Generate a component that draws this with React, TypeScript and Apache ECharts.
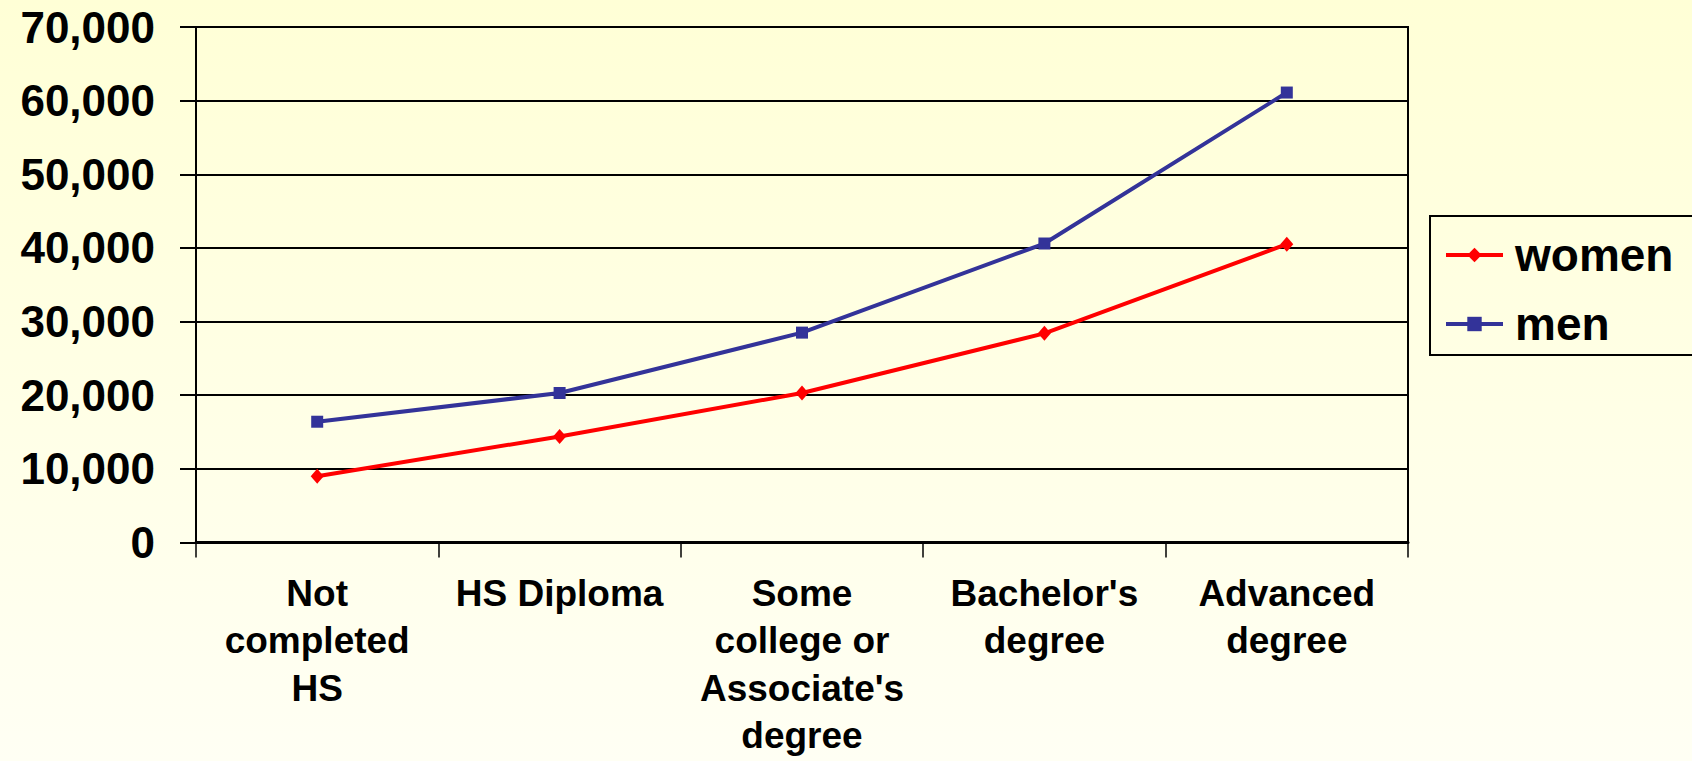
import React, { useEffect, useRef } from "react";
import * as echarts from "echarts";

const categories = [
  "Not\ncompleted\nHS",
  "HS Diploma",
  "Some\ncollege or\nAssociate's\ndegree",
  "Bachelor's\ndegree",
  "Advanced\ndegree",
];
const women = [9000, 14400, 20300, 28400, 40500];
const men = [16400, 20300, 28500, 40600, 61100];
const yMin = 0;
const yMax = 70000;
const yStep = 10000;

const FONT = "'Liberation Sans', Arial, Helvetica, sans-serif";

export default function App() {
  const ref = useRef<HTMLDivElement>(null);
  useEffect(() => {
    document.body.style.margin = "0";
    if (!ref.current) return;
    const chart = echarts.init(ref.current, null, { renderer: "svg" });
    chart.setOption({
      animation: false,
      backgroundColor: new echarts.graphic.LinearGradient(0, 0, 0, 1, [
        { offset: 0, color: "#FFFFD6" },
        { offset: 1, color: "#FFFFF4" },
      ]),
      grid: {
        left: 196,
        right: 284,
        top: 27,
        bottom: 218.5,
        show: true,
        borderColor: "#000",
        borderWidth: 2,
        backgroundColor: "transparent",
        outerBoundsMode: "none",
        containLabel: false,
      },
      legend: {
        left: 1430,
        top: 216,
        orient: "vertical",
        borderColor: "#000",
        borderWidth: 2,
        padding: [15, 20, 7, 14],
        itemGap: 21,
        itemWidth: 57,
        itemHeight: 18,
        lineStyle: { width: 4 },
        textStyle: {
          fontFamily: FONT,
          fontSize: 46,
          fontWeight: "bold",
          color: "#000",
          lineHeight: 48,
          padding: [0, 0, 0, 7],
        },
        data: ["women", "men"],
      },
      xAxis: {
        type: "category",
        data: categories,
        boundaryGap: true,
        axisLine: { lineStyle: { color: "#000", width: 3 } },
        axisTick: { show: true, length: 15, inside: false, lineStyle: { color: "#000", width: 1.5 } },
        axisLabel: {
          interval: 0,
          margin: 27,
          fontFamily: FONT,
          fontSize: 37,
          fontWeight: "bold",
          color: "#000",
          lineHeight: 47.5,
        },
        splitLine: { show: false },
      },
      yAxis: {
        type: "value",
        min: yMin,
        max: yMax,
        interval: yStep,
        axisLine: { show: true, lineStyle: { color: "#000", width: 2 } },
        axisTick: { show: true, length: 16, lineStyle: { color: "#000", width: 2 } },
        axisLabel: {
          margin: 41,
          fontFamily: FONT,
          fontSize: 44,
          fontWeight: "bold",
          color: "#000",
          formatter: (v: number) => v.toLocaleString("en-US"),
        },
        splitLine: { show: true, lineStyle: { color: "#000", width: 2 } },
      },
      series: [
        {
          name: "women",
          type: "line",
          data: women,
          color: "#FF0000",
          symbol: "diamond",
          symbolSize: [13, 15],
          lineStyle: { width: 4, color: "#FF0000" },
          itemStyle: { color: "#FF0000" },
        },
        {
          name: "men",
          type: "line",
          data: men,
          color: "#333399",
          symbol: "rect",
          symbolSize: 12,
          lineStyle: { width: 4, color: "#333399" },
          itemStyle: { color: "#333399" },
        },
      ],
    });
    return () => chart.dispose();
  }, []);
  return <div ref={ref} style={{ width: 1692, height: 761 }} />;
}
